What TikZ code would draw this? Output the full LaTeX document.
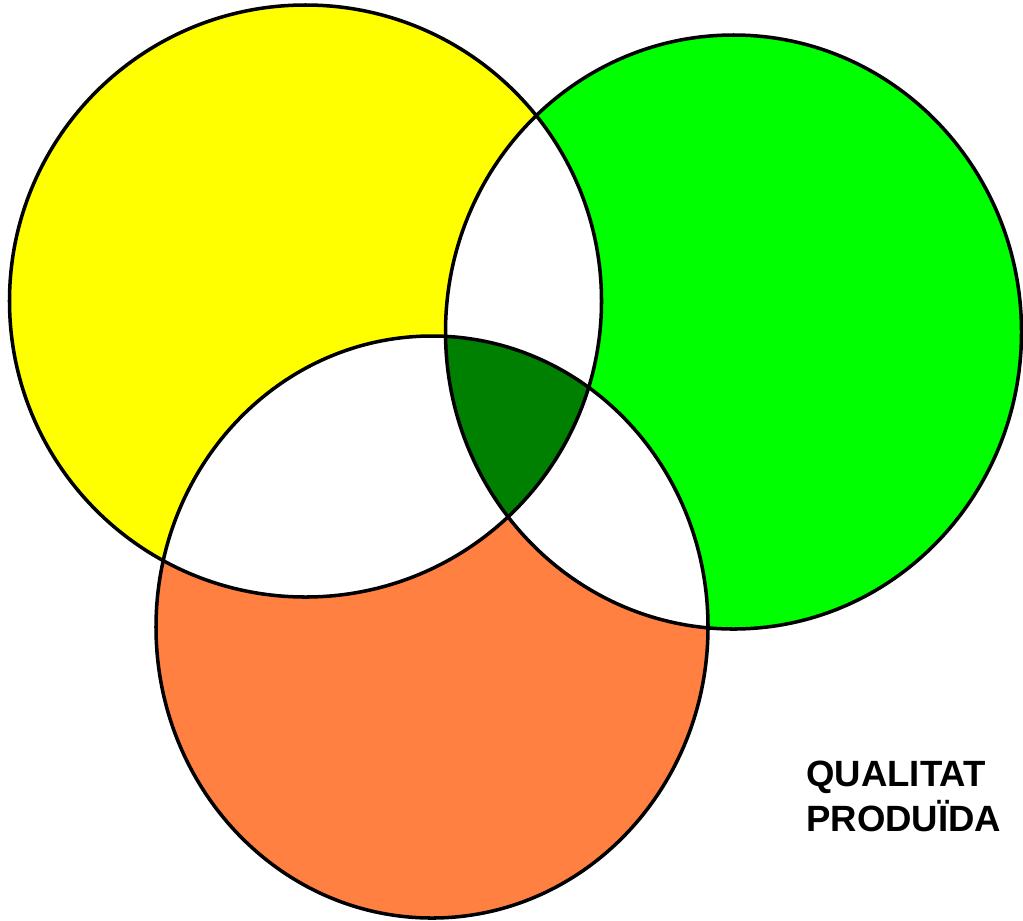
\documentclass[tikz,border=0pt]{standalone}
\usepackage{xcolor}
\usepackage{fontspec}
\setmainfont{Liberation Sans}
\usetikzlibrary{positioning}

\definecolor{setyellow}{RGB}{255,255,0}
\definecolor{setgreen}{RGB}{0,255,0}
\definecolor{setorange}{RGB}{255,128,64}
\definecolor{setcore}{RGB}{0,128,0}

\tikzset{
  outline/.style={draw=black, line width=2pt},
  caption/.style={font=\bfseries\fontsize{20.8}{25.6}\selectfont, align=left, inner sep=0pt}
}

\begin{document}
\begin{tikzpicture}[x=0.02cm, y=-0.02cm]
  \useasboundingbox (0,0) rectangle (1023,920);
  \def\yellowset{(305.5,301) ellipse [x radius=296, y radius=296]}
  \def\greenset{(733.5,332) ellipse [x radius=288, y radius=297]}
  \def\orangeset{(432,627) ellipse [x radius=276, y radius=291]}

  % the three sets
  \fill[setyellow] \yellowset;
  \fill[setgreen] \greenset;
  \fill[setorange] \orangeset;

  % pairwise overlaps
  \begin{scope}
    \clip \yellowset;
    \fill[white] \greenset;
    \fill[white] \orangeset;
  \end{scope}
  \begin{scope}
    \clip \greenset;
    \fill[white] \orangeset;
  \end{scope}

  % all three
  \begin{scope}
    \clip \yellowset;
    \clip \greenset;
    \fill[setcore] \orangeset;
  \end{scope}

  \draw[outline] \yellowset;
  \draw[outline] \greenset;
  \draw[outline] \orangeset;

  \node (quality) [caption, anchor=north west] at (806,761) {QUALITAT\\PRODUÏDA};
\end{tikzpicture}
\end{document}
